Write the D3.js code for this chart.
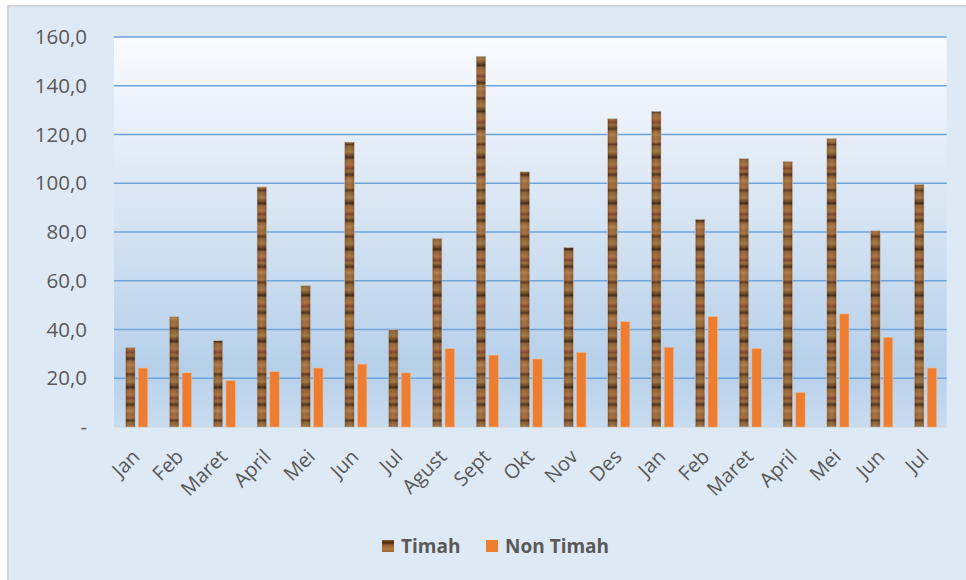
<!DOCTYPE html>
<html><head><meta charset="utf-8">
<script src="https://cdn.jsdelivr.net/npm/d3@7"></script>
<style>
body{margin:0;background:#fff;}
text{font-family:"Open Sans",sans-serif;}
</style>
</head><body>
<svg id="c" width="966" height="580"></svg>
<script>
const categories = ["Jan","Feb","Maret","April","Mei","Jun","Jul","Agust","Sept","Okt","Nov","Des","Jan","Feb","Maret","April","Mei","Jun","Jul"];
const timah = [32.7,45.3,35.4,98.5,58.0,116.9,39.9,77.4,152.1,104.7,73.7,126.5,129.5,85.2,110.1,109.0,118.4,80.5,99.6];
const nonTimah = [24.2,22.2,19.0,22.7,24.2,25.8,22.2,32.1,29.5,27.9,30.6,43.2,32.7,45.3,32.1,14.2,46.4,36.8,24.2];
const yTicks = [0,20,40,60,80,100,120,140,160];
const seriesNames = ["Timah","Non Timah"];

const svg = d3.select("#c");
const defs = svg.append("defs");

// plot gradient
const pg = defs.append("linearGradient").attr("id","plotbg").attr("x1",0).attr("y1",0).attr("x2",0).attr("y2",1);
pg.append("stop").attr("offset","0%").attr("stop-color","#f9fbfe");
pg.append("stop").attr("offset","40%").attr("stop-color","#dbe7f4");
pg.append("stop").attr("offset","85%").attr("stop-color","#b6d0ea");
pg.append("stop").attr("offset","100%").attr("stop-color","#c9dcf0");

// wood texture (repeating vertical gradient)
const woodStops = [
  [0,"#9a6434"],[0.08,"#a56d3a"],[0.14,"#5a3214"],[0.18,"#8a5a2c"],[0.30,"#a0733e"],
  [0.38,"#6b4019"],[0.42,"#3e220c"],[0.47,"#8e5e30"],[0.58,"#a86e3c"],[0.66,"#7e3f24"],
  [0.72,"#9b6a36"],[0.80,"#4d2b10"],[0.85,"#94602f"],[0.93,"#b07a44"],[1,"#9a6434"]
];
const wood = defs.append("linearGradient").attr("id","wood").attr("gradientUnits","userSpaceOnUse")
  .attr("x1",0).attr("y1",0).attr("x2",0).attr("y2",46).attr("spreadMethod","repeat");
woodStops.forEach(s => wood.append("stop").attr("offset",s[0]).attr("stop-color",s[1]));
const edge = defs.append("linearGradient").attr("id","woodEdge").attr("x1",0).attr("y1",0).attr("x2",1).attr("y2",0);
edge.append("stop").attr("offset","0%").attr("stop-color","#000").attr("stop-opacity",0.15);
edge.append("stop").attr("offset","45%").attr("stop-color","#fff").attr("stop-opacity",0.06);
edge.append("stop").attr("offset","100%").attr("stop-color","#000").attr("stop-opacity",0.15);

// outer chart area
svg.append("rect").attr("x",8).attr("y",6).attr("width",966).attr("height",580)
  .attr("fill","#dde9f5").attr("stroke","#d4d4d4").attr("stroke-width",2);

const L = 114, R = 946.7, T = 37, B = 427;
const x = d3.scaleBand().domain(d3.range(categories.length)).range([L,R]);
const y = d3.scaleLinear().domain([0,160]).range([B,T]);
const bw = x.bandwidth();
const xs = d3.scaleBand().domain(seriesNames).range([bw*0.265, bw*0.77]).paddingInner(0.25);

svg.append("rect").attr("x",L).attr("y",T).attr("width",R-L).attr("height",B-T).attr("fill","url(#plotbg)");

// gridlines
svg.append("g").selectAll("line").data(yTicks.filter(d=>d>0)).join("line")
  .attr("x1",L).attr("x2",R).attr("y1",d=>y(d)).attr("y2",d=>y(d))
  .attr("stroke","#6fa3d9").attr("stroke-width",1.6);
svg.append("line").attr("x1",L).attr("x2",R).attr("y1",B).attr("y2",B)
  .attr("stroke","#d0d8e0").attr("stroke-width",1.2);

// y axis
const yAxis = d3.axisLeft(y).tickValues(yTicks).tickSize(0).tickPadding(0)
  .tickFormat(d => d === 0 ? "-" : d.toFixed(1).replace(".",","));
const ya = svg.append("g").attr("transform","translate(87,0)").call(yAxis);
ya.select(".domain").remove();
ya.selectAll("text").attr("font-size",20.5).attr("fill","#595959").attr("font-family","Open Sans, sans-serif");

// bars
const g = svg.append("g");
g.selectAll("rect.t").data(timah).join("rect").attr("class","t")
  .attr("x",(d,i)=>x(i)+xs("Timah")).attr("width",xs.bandwidth())
  .attr("y",d=>y(d)).attr("height",d=>B-y(d)).attr("fill","url(#wood)")
  .attr("stroke","#c8c8c8").attr("stroke-width",0.6);
g.selectAll("rect.te").data(timah).join("rect").attr("class","te")
  .attr("x",(d,i)=>x(i)+xs("Timah")).attr("width",xs.bandwidth())
  .attr("y",d=>y(d)).attr("height",d=>B-y(d)).attr("fill","url(#woodEdge)");
g.selectAll("rect.n").data(nonTimah).join("rect").attr("class","n")
  .attr("x",(d,i)=>x(i)+xs("Non Timah")).attr("width",xs.bandwidth())
  .attr("y",d=>y(d)).attr("height",d=>B-y(d)).attr("fill","#ed7d31")
  .attr("stroke","#f0b890").attr("stroke-width",0.6);

// x labels
svg.append("g").selectAll("text").data(categories).join("text")
  .attr("transform",(d,i)=>`translate(${x(i)+bw/2+5},458) rotate(-45)`)
  .attr("text-anchor","end").attr("font-size",20).attr("fill","#595959")
  .text(d=>d);

// legend
const leg = svg.append("g");
const legItems = [{name:"Timah", fill:"url(#wood)", x:382},{name:"Non Timah", fill:"#ed7d31", x:486}];
legItems.forEach(it => {
  leg.append("rect").attr("x",it.x).attr("y",540).attr("width",12).attr("height",12).attr("fill",it.fill);
  leg.append("text").attr("x",it.x+19).attr("y",553).attr("font-size",19).attr("font-weight","bold")
    .attr("fill","#595959").text(it.name);
});
</script>
</body></html>
